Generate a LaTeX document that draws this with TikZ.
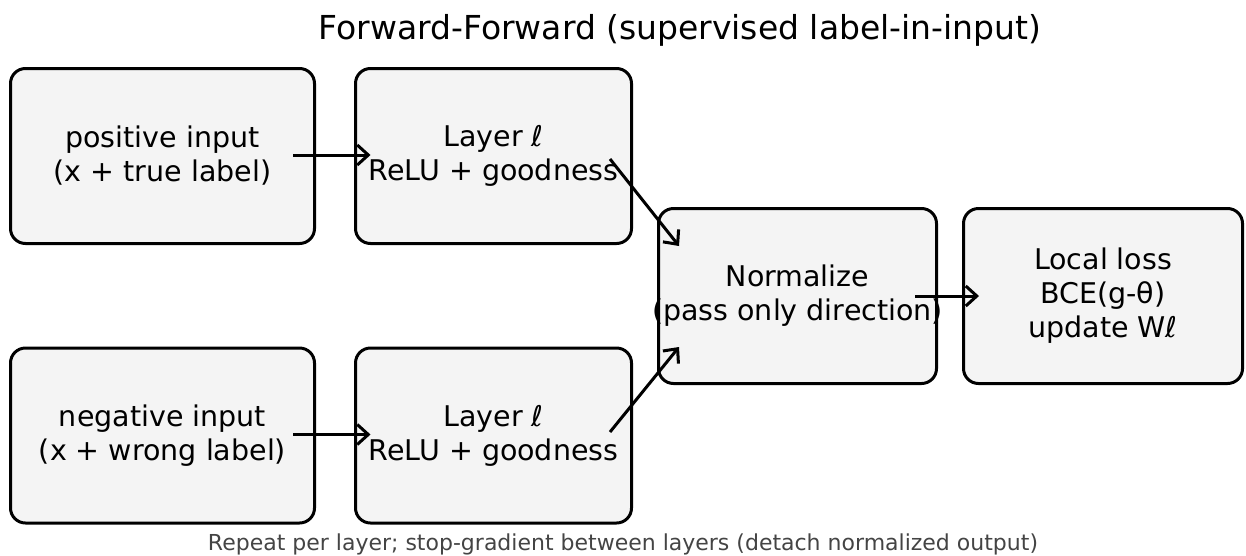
\documentclass[tikz,border=0pt]{standalone}
\usepackage{fontspec}
\setmainfont{DejaVu Sans}
\usetikzlibrary{arrows.meta,calc}
\definecolor{boxfill}{HTML}{F4F4F4}
\definecolor{notegray}{HTML}{444444}
\tikzset{
  stage/.style={draw=black, fill=boxfill, line width=3pt, rounded corners=15pt,
    minimum height=175pt, inner sep=0pt, outer sep=0pt, align=center,
    font=\fontsize{28.5}{34}\selectfont},
  flow/.style={line width=3pt, -{Straight Barb[length=11pt,width=20pt,line width=3pt]}},
}
\begin{document}
\begin{tikzpicture}[x=1pt, y=-1pt]
  \useasboundingbox (0,0) rectangle (1246,555);

  % title
  \node[anchor=base, font=\fontsize{33}{40}\selectfont] (title) at (680,39)
    {Forward-Forward (supervised label-in-input)};

  % positive branch
  \node[stage, minimum width=304pt] (pos) at (162.5,156)
    {positive input\\(x + true label)};
  \node[stage, minimum width=276pt] (layp) at (493.5,156)
    {Layer ℓ\\ReLU + goodness};

  % negative branch
  \node[stage, minimum width=304pt] (neg) at (162.5,435.5)
    {negative input\\(x + wrong label)};
  \node[stage, minimum width=276pt] (layn) at (493.5,435.5)
    {Layer ℓ\\ReLU + goodness};

  % shared stages (the long line may run past the frame)
  \node[stage, minimum width=278pt] (norm) at (797.5,296)
    {Normalize\\\makebox[0pt][c]{(pass only direction)}};
  \node[stage, minimum width=279pt] (loss) at (1103,296)
    {Local loss\\BCE(g-θ)\\update Wℓ};

  % connectors
  \draw[flow] ($(pos.east)+(-21.5,-1)$) -- ($(layp.west)+(15,-1)$);
  \draw[flow] ($(neg.east)+(-21.5,-1)$) -- ($(layn.west)+(15,-1)$);
  \draw[flow] ($(layp.east)+(-21.5,3)$) -- ($(norm.west)+(20.5,-50)$);
  \draw[flow] ($(layn.east)+(-21.5,-3.5)$) -- ($(norm.west)+(20.5,51)$);
  \draw[flow] ($(norm.east)+(-21.5,0)$) -- ($(loss.west)+(15.5,0)$);

  % footnote
  \node[anchor=base, text=notegray, font=\fontsize{22}{26}\selectfont] (note) at (623,550.5)
    {Repeat per layer; stop-gradient between layers (detach normalized output)};
\end{tikzpicture}
\end{document}
